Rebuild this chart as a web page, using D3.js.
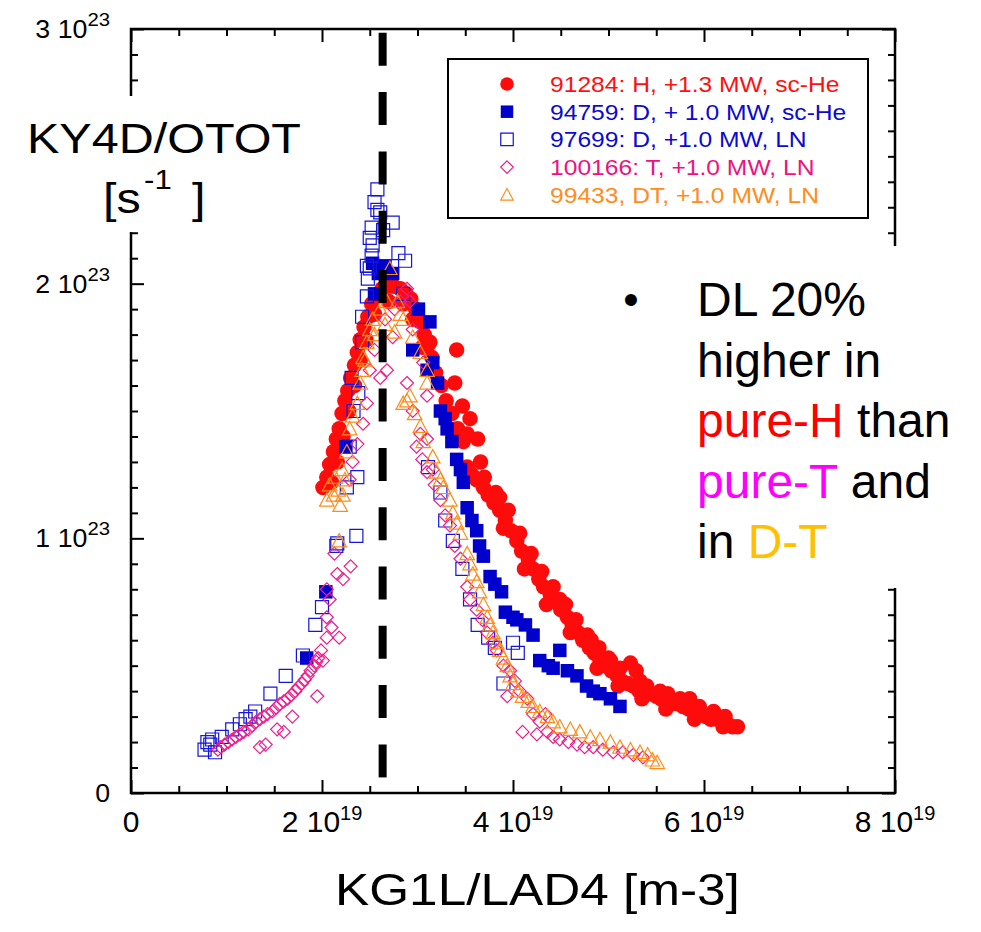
<!DOCTYPE html>
<html>
<head>
<meta charset="utf-8">
<script src="https://cdn.jsdelivr.net/npm/d3@7"></script>
<style>
    body { margin: 0; background: #fff; }
    svg { display: block; }
    text { font-family: "Liberation Sans", Arial, Helvetica, sans-serif; }
</style>
</head>
<body>
<div id="chart"></div>
<script>
// x in units of 1e19 m-3, y in units of 1e23 s-1
const h91284 = [
    [2.01, 1.20], [2.05, 1.24], [2.08, 1.29], [2.12, 1.34], [2.15, 1.39], [2.18, 1.43], [2.21, 1.49],
    [2.24, 1.54], [2.27, 1.58], [2.30, 1.63], [2.34, 1.68], [2.37, 1.73], [2.40, 1.78], [2.44, 1.83],
    [2.48, 1.87], [2.52, 1.92], [2.58, 1.95], [2.63, 1.98], [2.69, 1.99], [2.75, 1.99], [2.82, 1.98],
    [2.88, 1.96], [2.93, 1.94], [2.98, 1.90], [3.03, 1.85], [3.07, 1.80], [3.11, 1.76], [3.13, 1.77],
    [3.15, 1.71], [3.19, 1.65], [3.25, 1.60], [3.30, 1.54], [3.36, 1.49], [3.42, 1.43], [3.48, 1.38],
    [3.52, 1.41], [2.10, 1.22], [2.16, 1.30], [2.22, 1.40], [2.28, 1.50], [2.34, 1.60], [2.40, 1.70],
    [2.46, 1.78], [2.55, 1.88], [2.70, 1.93], [2.85, 1.92], [2.95, 1.86], [3.05, 1.75],
    [3.41, 1.74], [3.39, 1.61], [3.47, 1.52], [3.55, 1.47], [3.63, 1.39], [3.66, 1.30],
    [3.52, 1.28], [3.57, 1.25], [3.62, 1.23], [3.69, 1.20], [3.74, 1.17], [3.80, 1.14], [3.86, 1.11],
    [3.86, 1.16], [3.92, 1.07], [3.98, 1.03], [4.04, 0.99], [4.09, 0.95], [4.16, 0.92], [4.21, 0.88],
    [4.27, 0.84], [4.32, 0.81], [4.39, 0.78], [4.45, 0.75], [4.49, 0.76], [4.50, 0.72], [4.57, 0.69],
    [4.62, 0.66], [4.68, 0.63], [4.73, 0.60], [4.82, 0.60], [4.80, 0.57], [4.85, 0.55], [4.91, 0.52],
    [4.97, 0.50], [5.02, 0.52], [5.03, 0.48], [5.09, 0.46], [5.14, 0.44], [5.20, 0.43], [5.23, 0.51],
    [5.29, 0.48], [5.26, 0.42], [5.33, 0.44], [5.32, 0.40], [5.37, 0.40], [5.43, 0.39], [5.50, 0.38],
    [5.54, 0.40], [5.55, 0.37], [5.61, 0.36], [5.66, 0.35], [5.73, 0.35], [5.78, 0.34], [5.84, 0.33],
    [5.85, 0.37], [5.90, 0.32], [5.96, 0.31], [6.02, 0.30], [6.07, 0.29], [6.14, 0.29], [6.19, 0.28],
    [6.25, 0.27], [6.30, 0.26], [6.35, 0.26],
    [3.70, 1.24], [3.82, 1.18], [3.95, 1.11], [4.07, 1.02], [4.19, 0.94], [4.30, 0.87], [4.42, 0.81],
    [4.55, 0.74], [4.66, 0.68], [4.78, 0.62], [4.90, 0.57], [5.00, 0.53], [5.12, 0.49], [5.40, 0.42],
    [5.62, 0.39], [5.75, 0.37], [5.95, 0.34], [6.10, 0.32], [6.22, 0.30],
    [3.90, 1.04], [4.12, 0.88], [4.35, 0.74], [4.60, 0.63], [4.88, 0.49], [5.10, 0.42], [5.35, 0.37],
    [5.60, 0.33], [5.90, 0.29], [6.20, 0.26]
];

const d94759 = [
    [1.84, 0.53], [2.04, 0.79], [2.25, 1.36], [2.53, 2.08], [2.59, 2.04], [2.66, 2.07], [2.74, 2.04],
    [2.55, 1.96], [3.01, 1.90], [3.13, 1.85], [2.95, 1.74], [3.10, 1.66], [3.16, 1.69], [3.21, 1.61],
    [3.24, 1.50], [3.29, 1.47], [3.31, 1.43], [3.36, 1.38], [3.41, 1.31], [3.45, 1.27], [3.48, 1.22],
    [3.52, 1.12], [3.57, 1.07], [3.62, 1.03], [3.65, 0.97], [3.69, 0.93], [3.76, 0.85], [3.81, 0.82],
    [3.88, 0.79], [3.92, 0.71], [4.00, 0.69], [4.04, 0.68], [4.13, 0.66], [4.21, 0.62], [4.28, 0.52],
    [4.37, 0.50], [4.42, 0.49], [4.49, 0.56], [4.57, 0.48], [4.67, 0.46], [4.77, 0.42], [4.84, 0.40],
    [4.91, 0.39], [5.02, 0.37], [5.12, 0.34]
];

const d97699 = [
    [0.77, 0.17], [0.83, 0.19], [0.88, 0.16], [0.85, 0.21], [0.80, 0.20], [0.95, 0.22], [1.06, 0.25],
    [1.14, 0.27], [1.20, 0.29], [1.25, 0.30], [1.30, 0.32], [1.46, 0.39], [1.62, 0.46], [1.80, 0.54],
    [1.93, 0.66], [2.00, 0.73], [2.15, 0.97], [2.16, 0.98], [2.36, 1.01], [2.26, 1.20], [2.37, 1.24],
    [2.29, 1.36], [2.33, 1.50], [2.38, 1.57], [2.31, 1.63], [2.42, 1.77], [2.42, 1.87], [2.47, 1.95],
    [2.48, 2.02], [2.50, 2.06], [2.47, 2.07], [2.52, 2.11], [2.53, 2.15], [2.50, 2.18], [2.52, 2.22],
    [2.58, 2.29], [2.55, 2.32], [2.58, 2.37], [2.61, 2.28], [2.64, 2.21], [2.74, 2.24], [2.80, 2.12],
    [2.87, 2.09], [2.85, 1.96], [3.11, 1.28], [3.24, 1.18], [3.29, 1.07], [3.37, 0.99], [3.47, 0.88],
    [3.55, 0.76], [3.63, 0.66], [3.74, 0.61], [3.81, 0.57], [4.00, 0.59], [4.05, 0.55], [3.90, 0.43]
];

const t100166 = [
    [0.91, 0.17], [0.94, 0.18], [0.98, 0.19], [1.02, 0.20], [1.06, 0.21], [1.10, 0.22], [1.14, 0.23],
    [1.18, 0.24], [1.23, 0.25], [1.27, 0.265], [1.31, 0.28], [1.35, 0.29], [1.39, 0.30], [1.43, 0.31],
    [1.48, 0.32], [1.52, 0.335], [1.56, 0.35], [1.60, 0.36], [1.64, 0.37], [1.68, 0.385], [1.72, 0.40],
    [1.75, 0.415], [1.79, 0.43], [1.82, 0.445], [1.85, 0.46], [1.88, 0.48], [1.92, 0.50], [1.94, 0.515],
    [1.96, 0.53], [1.99, 0.56], [2.01, 0.52],
    [1.35, 0.18], [1.41, 0.19], [1.53, 0.25], [1.60, 0.24], [1.69, 0.30], [1.95, 0.38],
    [2.05, 0.61], [2.10, 0.65], [2.18, 0.61], [2.05, 0.69], [2.08, 0.76], [2.05, 0.80], [2.16, 0.86],
    [2.22, 0.84], [2.30, 0.89], [2.13, 0.94],
    [2.29, 1.23], [2.32, 1.30], [2.37, 1.37], [2.43, 1.45], [2.47, 1.53], [2.50, 1.66], [2.61, 1.63],
    [2.68, 1.66], [2.55, 1.74], [2.74, 1.79], [2.66, 1.86], [2.76, 1.90], [2.82, 1.93], [2.92, 1.93],
    [2.89, 1.98], [2.95, 1.82], [3.06, 1.69], [3.10, 1.56], [3.03, 1.41], [3.10, 1.39], [3.16, 1.27],
    [2.89, 1.61], [2.95, 1.50], [2.99, 1.36], [3.05, 1.31], [3.10, 1.26], [3.18, 1.21], [3.24, 1.15],
    [3.29, 1.09], [3.34, 1.05], [3.39, 0.97], [3.45, 0.92], [3.52, 0.81], [3.55, 0.76], [3.62, 0.72],
    [3.68, 0.68], [3.73, 0.63], [3.79, 0.59], [3.83, 0.56], [3.90, 0.50], [3.97, 0.48], [4.02, 0.44],
    [4.07, 0.40], [3.94, 0.38], [4.15, 0.37], [4.21, 0.31], [4.28, 0.28], [4.34, 0.31], [4.10, 0.24],
    [4.25, 0.23], [4.36, 0.24], [4.42, 0.22], [4.49, 0.21], [4.58, 0.20], [4.67, 0.19], [4.75, 0.18],
    [4.84, 0.18], [4.94, 0.17], [5.05, 0.16], [5.15, 0.16], [5.26, 0.15], [5.36, 0.14]
];

const dt99433 = [
    [2.18, 0.99], [2.05, 1.15], [2.12, 1.17], [2.17, 1.19], [2.22, 1.17], [2.19, 1.13], [2.08, 1.21],
    [2.14, 1.24], [2.21, 1.27], [2.24, 1.23], [2.26, 1.34], [2.29, 1.43], [2.32, 1.48], [2.37, 1.53],
    [2.40, 1.61], [2.42, 1.66], [2.45, 1.70], [2.43, 1.71], [2.47, 1.77], [2.50, 1.82], [2.55, 1.80],
    [2.53, 1.86], [2.61, 1.90], [2.66, 1.84], [2.68, 1.93], [2.71, 2.06], [2.76, 1.81], [2.79, 1.93],
    [2.82, 1.88], [2.85, 1.86], [2.95, 1.79], [3.03, 1.73], [3.10, 1.66], [3.10, 1.61], [2.85, 1.53],
    [2.92, 1.56], [2.89, 1.54], [2.97, 1.49], [3.03, 1.44], [3.06, 1.38], [3.16, 1.32], [3.20, 1.26],
    [3.24, 1.23], [3.27, 1.20], [3.34, 1.15], [3.37, 1.10], [3.41, 1.06], [3.45, 1.02], [3.52, 0.94],
    [3.55, 0.90], [3.58, 0.86], [3.62, 0.83], [3.65, 0.79], [3.69, 0.74], [3.73, 0.69], [3.76, 0.66],
    [3.79, 0.63], [3.83, 0.59], [3.86, 0.56], [3.90, 0.53], [3.94, 0.50], [3.97, 0.46], [4.00, 0.43],
    [4.05, 0.40], [4.10, 0.38], [4.16, 0.36], [4.21, 0.34], [4.28, 0.32], [4.36, 0.30], [4.42, 0.28],
    [4.49, 0.26], [4.60, 0.25], [4.70, 0.24], [4.81, 0.22], [4.91, 0.21], [5.02, 0.20], [5.12, 0.18],
    [5.23, 0.17], [5.33, 0.16], [5.41, 0.15], [5.46, 0.13], [5.51, 0.12]
];

const seriesLabels = [
    '91284: H, +1.3 MW, sc-He',
    '94759: D, + 1.0 MW, sc-He',
    '97699: D, +1.0 MW, LN',
    '100166: T, +1.0 MW, LN',
    '99433, DT, +1.0 MW, LN'
];

const xMajorTicks = [0, 2, 4, 6, 8];
const xTickLabels = ['0', '2 10^19', '4 10^19', '6 10^19', '8 10^19'];
const yMajorTicks = [0, 1, 2, 3];
const yTickLabels = ['0', '1 10^23', '2 10^23', '3 10^23'];
const refDensity = 2.635;

const noteLines = [
    [['DL 20%', '#000']],
    [['higher in', '#000']],
    [['pure-H', '#ff0000'], [' than', '#000']],
    [['pure-T', '#ff00ff'], [' and', '#000']],
    [['in ', '#000'], ['D-T', '#ffc000']]
];

// Marker shapes, centred on 0,0
const shapes = {
    circle: s => `M${-s / 2},0a${s / 2},${s / 2} 0 1,0 ${s},0a${s / 2},${s / 2} 0 1,0 ${-s},0Z`,
    square: s => `M${-s / 2},${-s / 2}h${s}v${s}h${-s}Z`,
    diamond: s => `M0,${-s / 2}L${s / 2},0L0,${s / 2}L${-s / 2},0Z`,
    triangle: s => `M0,${-s * 0.5}L${s / 2},${s * 0.42}L${-s / 2},${s * 0.42}Z`
};

const series = [
    { data: h91284, shape: 'circle', size: 15.5, color: '#fe0c0c', filled: true },
    { data: d94759, shape: 'square', size: 13.5, color: '#0000cc', filled: true },
    { data: d97699, shape: 'square', size: 13, color: '#1414dc', filled: false },
    { data: t100166, shape: 'diamond', size: 13, color: '#ee1c8a', filled: false },
    { data: dt99433, shape: 'triangle', size: 14.5, color: '#ff8c1a', filled: false }
];
const legendColors = ['#ff1010', '#0a0ad0', '#0a0ad0', '#ee127f', '#ff8c1e'];

const margin = { top: 29, left: 131 };
const width = 764;
const height = 764;

const svg = d3.select('#chart')
    .append('svg')
    .attr('width', 981)
    .attr('height', 932);

const g = svg.append('g')
    .attr('transform', `translate(${margin.left},${margin.top})`);

const x = d3.scaleLinear().domain([0, 8]).range([0, width]);
const y = d3.scaleLinear().domain([0, 3]).range([height, 0]);

// Data markers
series.forEach(s => {
    g.append('g')
        .selectAll('path')
        .data(s.data)
        .join('path')
        .attr('transform', d => `translate(${x(d[0])},${y(d[1])})`)
        .attr('d', shapes[s.shape](s.size))
        .attr('fill', s.filled ? s.color : 'none')
        .attr('stroke', s.filled ? 'none' : s.color)
        .attr('stroke-width', 1.2);
});

// Dashed reference line
g.append('line')
    .attr('x1', x(refDensity))
    .attr('x2', x(refDensity))
    .attr('y1', y(2.985))
    .attr('y2', y(0.05))
    .attr('stroke', '#000')
    .attr('stroke-width', 8)
    .attr('stroke-dasharray', '33,26.3');

// Ticks on all four sides, pointing inward
const xMinor = d3.range(0, 8.001, 0.5).filter(v => v % 2 !== 0);
const yMinor = d3.range(0, 30.5, 1).map(v => v / 10).filter(v => Math.abs(v - Math.round(v)) > 1e-6);

const tickAxis = (axis, ticks, size, transform) => {
    const a = g.append('g')
        .attr('transform', transform)
        .call(axis.tickValues(ticks).tickSize(size).tickFormat(''));
    a.select('.domain').remove();
    a.selectAll('line').attr('stroke', '#000').attr('stroke-width', 2);
};

tickAxis(d3.axisBottom(x), xMajorTicks, -13, `translate(0,${height})`);
tickAxis(d3.axisBottom(x), xMinor, -7, `translate(0,${height})`);
tickAxis(d3.axisTop(x), xMajorTicks, -13, 'translate(0,0)');
tickAxis(d3.axisTop(x), xMinor, -7, 'translate(0,0)');
tickAxis(d3.axisLeft(y), yMajorTicks, -13, 'translate(0,0)');
tickAxis(d3.axisLeft(y), yMinor, -7, 'translate(0,0)');
tickAxis(d3.axisRight(y), yMajorTicks, -13, `translate(${width},0)`);
tickAxis(d3.axisRight(y), yMinor, -7, `translate(${width},0)`);

g.append('rect')
    .attr('width', width)
    .attr('height', height)
    .attr('fill', 'none')
    .attr('stroke', '#000')
    .attr('stroke-width', 2.5);

// Tick labels with "a 10^b" superscripts
const writeTickLabel = (sel, label, supSize, supRise) => {
    const [base, exp] = label.split('^');
    sel.append('tspan').text(base);
    if (exp) {
        sel.append('tspan').attr('dy', -supRise).attr('font-size', supSize).text(exp);
    }
};

xMajorTicks.forEach((v, i) => {
    const t = g.append('text')
        .attr('x', x(v))
        .attr('y', height + 39)
        .attr('text-anchor', 'middle')
        .attr('font-size', 30);
    writeTickLabel(t, xTickLabels[i], 20, 12);
});

yMajorTicks.forEach((v, i) => {
    const t = g.append('text')
        .attr('transform', `translate(-21,${y(v) + 9}) scale(1.07,1)`)
        .attr('text-anchor', 'end')
        .attr('font-size', 25);
    writeTickLabel(t, yTickLabels[i], 19, 12);
});

// Axis titles, on white so they break the frame
svg.append('rect')
    .attr('x', 8).attr('y', 96)
    .attr('width', 310).attr('height', 136)
    .attr('fill', '#fff');

svg.append('text')
    .attr('transform', 'translate(27,153) scale(1.155,1)')
    .attr('font-size', 42)
    .text('KY4D/OTOT');

svg.append('text')
    .attr('transform', 'translate(103,213) scale(1.155,1)')
    .attr('font-size', 42)
    .text('[s');
svg.append('text')
    .attr('transform', 'translate(144,189) scale(1.155,1)')
    .attr('font-size', 27)
    .text('-1');
svg.append('text')
    .attr('transform', 'translate(192,213) scale(1.155,1)')
    .attr('font-size', 42)
    .text(']');

svg.append('text')
    .attr('transform', 'translate(335,905) scale(1.14,1)')
    .attr('font-size', 45)
    .text('KG1L/LAD4 [m-3]');

// Legend
const legend = svg.append('g');
legend.append('rect')
    .attr('x', 448).attr('y', 59)
    .attr('width', 420).attr('height', 159)
    .attr('fill', '#fff')
    .attr('stroke', '#000')
    .attr('stroke-width', 2);

series.forEach((s, i) => {
    const cy = 84 + i * 27.7;
    legend.append('path')
        .attr('transform', `translate(507,${cy})`)
        .attr('d', shapes[s.shape](s.shape === 'circle' ? 13.5 : 12.5))
        .attr('fill', s.filled ? s.color : 'none')
        .attr('stroke', s.filled ? 'none' : s.color)
        .attr('stroke-width', 1.2);
    legend.append('text')
        .attr('transform', `translate(550,${cy + 8}) scale(1.12,1)`)
        .attr('font-size', 22)
        .attr('fill', legendColors[i])
        .text(seriesLabels[i]);
});

// Annotation block
svg.append('rect')
    .attr('x', 600).attr('y', 246)
    .attr('width', 381).attr('height', 342)
    .attr('fill', '#fff');

svg.append('text')
    .attr('x', 631).attr('y', 315)
    .attr('text-anchor', 'middle')
    .attr('font-size', 44)
    .text('\u2022');

noteLines.forEach((line, i) => {
    const t = svg.append('text')
        .attr('x', 697)
        .attr('y', 316 + i * 60.5)
        .attr('font-size', 48)
        .attr('xml:space', 'preserve');
    line.forEach(([txt, col]) => t.append('tspan').attr('fill', col).text(txt));
});
</script>
</body>
</html>
